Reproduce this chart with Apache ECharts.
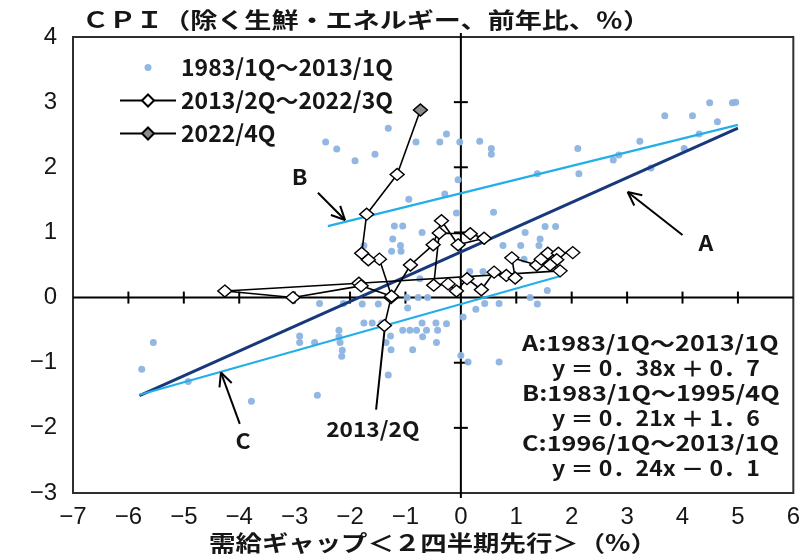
<!DOCTYPE html>
<html>
<head>
<meta charset="utf-8">
<script src="https://cdn.jsdelivr.net/npm/echarts@6/dist/echarts.min.js"></script>
<style>
  html, body { margin: 0; padding: 0; background: #ffffff; }
  #chart { width: 803px; height: 554px; }
</style>
</head>
<body>
<div id="chart"></div>
<script>
// Axis ranges and ticks
const xTicks = [-7, -6, -5, -4, -3, -2, -1, 0, 1, 2, 3, 4, 5, 6];
const yTicks = [-3, -2, -1, 0, 1, 2, 3, 4];

// Series names
const seriesNames = ['1983/1Q～2013/1Q', '2013/2Q～2022/3Q', '2022/4Q'];

// 1983/1Q - 2013/1Q : [output gap (2Q lead), CPI]
const history = [
  [4.49, 2.99], [4.90, 2.99], [4.96, 3.00],
  [3.68, 2.79], [4.18, 2.79], [4.63, 2.70], [4.30, 2.51],
  [0.34, 2.40], [0.55, 2.29], [0.55, 2.20], [2.11, 2.29], [3.23, 2.40], [4.03, 2.29],
  [2.75, 2.11], [2.85, 2.19], [1.38, 1.90], [2.13, 1.90], [3.43, 1.99],
  [0.59, 1.31], [-0.02, 2.39], [-0.05, 1.81], [-0.08, 1.30],
  [1.52, 1.09], [1.71, 1.09], [1.16, 1.00], [1.43, 0.90],
  [0.76, 0.80], [1.08, 0.80], [1.41, 0.80], [1.14, 0.59],
  [0.16, 0.40], [0.40, 0.40],
  [1.56, 0.11], [1.25, 0.00], [1.38, -0.10], [0.43, -0.09], [0.69, -0.09], [0.27, -0.18], [0.04, -0.30],
  [0.13, -0.99], [0.69, -0.99], [0.00, -0.89],
  [-1.31, 2.60], [-0.81, 2.39], [-0.38, 2.39], [-0.26, 2.51], [-2.44, 2.39], [-2.24, 2.28],
  [-1.91, 2.10], [-1.55, 2.20],
  [-0.94, 1.51], [-0.29, 1.59],
  [-1.20, 1.10], [-1.05, 1.10], [-0.70, 1.00], [-1.23, 0.90], [-1.09, 0.80],
  [-1.25, 0.71], [-1.08, 0.71], [-1.75, 0.80], [-0.74, 0.29],
  [-0.97, 0.00], [-0.77, 0.00], [-0.60, 0.00], [-2.55, -0.09], [-2.12, -0.09],
  [-1.78, -0.10], [-1.49, -0.10], [-0.96, -0.16],
  [-1.75, -0.39], [-1.60, -0.39], [-1.43, -0.39], [-0.70, -0.39], [-0.45, -0.39], [-0.26, -0.40],
  [-1.05, -0.50], [-0.92, -0.50], [-0.80, -0.50], [-0.62, -0.50], [-0.42, -0.50],
  [-0.69, -0.60], [-1.27, -0.59], [-1.35, -0.69], [-1.26, -0.80], [-0.44, -0.69], [-0.87, -0.80],
  [-1.31, -1.19],
  [-2.20, -0.50], [-2.20, -0.60], [-2.18, -0.69], [-2.14, -0.81], [-2.15, -0.90],
  [-2.91, -0.59], [-2.91, -0.69], [-2.64, -0.69],
  [-5.55, -0.69], [-5.76, -1.10], [-4.92, -1.29], [-3.78, -1.59], [-2.59, -1.50]
];

// 2013/2Q - 2022/3Q, in quarter order
const recent = [
  [-1.38, -0.43], [-1.26, 0.00], [-0.91, 0.50], [-0.50, 0.81], [-0.35, 1.18],
  [-0.05, 0.81], [0.42, 0.91], [0.17, 0.98], [-0.39, 0.99], [-0.49, 0.19],
  [-0.23, 0.21], [-0.08, 0.10], [0.11, 0.29], [0.37, 0.12], [0.60, 0.39],
  [0.82, 0.34], [0.98, 0.30], [0.92, 0.61], [1.37, 0.50], [1.45, 0.59],
  [1.57, 0.68], [2.02, 0.69], [1.76, 0.68], [1.73, 0.58], [1.61, 0.50],
  [1.79, 0.41], [-1.84, 0.22], [-4.26, 0.10], [-3.03, 0.00], [-1.80, 0.18],
  [-1.25, 0.02], [-1.47, 0.59], [-1.67, 0.58], [-1.79, 0.68], [-1.70, 1.28],
  [-1.15, 1.89]
];

// 2022/4Q
const latest = [[-0.73, 2.88]];

// Regression lines y = slope * x + intercept
const fitLabels = ['A', 'B', 'C'];
const fitSlope = [0.38, 0.21, 0.24];
const fitIntercept = [0.7, 1.6, -0.1];
const fitFrom = [-5.8, -2.4, -5.8];
const fitTo = [5.0, 5.0, 1.8];

// Arrow annotations (data units): tail -> tip, and where the letter sits
const arrowTail = [[4.00, 0.96], [-2.58, 1.61], [-3.99, -1.94]];
const arrowTip = [[3.01, 1.62], [-2.09, 1.19], [-4.33, -1.15]];
const letterAt = [[4.42, 0.84], [-2.91, 1.85], [-3.93, -2.20]];
const startNoteAt = [-1.59, -2.02];
const startNoteTail = [-1.53, -1.72];
const startNoteText = '2013/2Q';

const titleText = 'ＣＰＩ（除く生鮮・エネルギー、前年比、％）';
const xAxisTitle = '需給ギャップ＜２四半期先行＞（%）';
const noteLines = [
  'A:1983/1Q～2013/1Q', 'y ＝ 0．38x ＋ 0．7',
  'B:1983/1Q～1995/4Q', 'y ＝ 0．21x ＋ 1．6',
  'C:1996/1Q～2013/1Q', 'y ＝ 0．24x － 0．1'
];

const JP = '"Noto Sans CJK JP", "Noto Sans", sans-serif';
const NUM = '"Liberation Sans Narrow", "Liberation Sans", sans-serif';
const INK = '#161616';
const DOT = '#8db3e2';
const NAVY = '#17387a';
const CYAN = '#22afe9';

const fmt = v => (v < 0 ? '\u2212' + Math.abs(v) : String(v));

const fitSeries = fitLabels.map((name, i) => ({
  type: 'line',
  name: 'fit' + name,
  data: [
    [fitFrom[i], fitSlope[i] * fitFrom[i] + fitIntercept[i]],
    [fitTo[i], fitSlope[i] * fitTo[i] + fitIntercept[i]]
  ],
  symbol: 'none',
  silent: true,
  z: 3,
  lineStyle: { color: i === 0 ? NAVY : CYAN, width: i === 0 ? 3 : 2.2 }
}));

function seg(x1, y1, x2, y2, w) {
  return { type: 'line', shape: { x1, y1, x2, y2 }, style: { stroke: '#000', lineWidth: w } };
}

// zero cross lines with ticks on both sides
const crossSeries = {
  type: 'custom',
  coordinateSystem: 'cartesian2d',
  data: [[0, 0]],
  silent: true,
  z: 1,
  renderItem: function (params, api) {
    const kids = [];
    const L = api.coord([xTicks[0], 0]);
    const R = api.coord([xTicks[xTicks.length - 1], 0]);
    const T = api.coord([0, yTicks[yTicks.length - 1]]);
    const B = api.coord([0, yTicks[0]]);
    kids.push(seg(L[0], L[1], R[0], R[1], 2));
    kids.push(seg(T[0], T[1] - 4, B[0], B[1] + 5, 2));
    xTicks.slice(1, -1).forEach(v => {
      if (v === 0) return;
      const p = api.coord([v, 0]);
      kids.push(seg(p[0], p[1] - 6, p[0], p[1] + 6, 2));
    });
    yTicks.slice(1, -1).forEach(v => {
      if (v === 0) return;
      const p = api.coord([0, v]);
      kids.push(seg(p[0] - 7, p[1], p[0] + 7, p[1], 2));
    });
    return { type: 'group', children: kids };
  }
};

function arrow(kids, from, to) {
  kids.push(seg(from[0], from[1], to[0], to[1], 2));
  const ang = Math.atan2(to[1] - from[1], to[0] - from[0]);
  const len = 15, spread = 0.45;
  [ang + Math.PI - spread, ang + Math.PI + spread].forEach(a => {
    kids.push(seg(to[0], to[1], to[0] + len * Math.cos(a), to[1] + len * Math.sin(a), 2));
  });
}

function label(text, x, y, size, sx, align) {
  return { type: 'text', x: x, y: y, scaleX: sx,
    style: { text: text, font: 'bold ' + size + 'px ' + JP, fill: INK, align: align, verticalAlign: 'middle' } };
}

// arrows, letters and the 2013/2Q pointer
const noteSeries = {
  type: 'custom',
  coordinateSystem: 'cartesian2d',
  data: [[0, 0]],
  silent: true,
  z: 6,
  renderItem: function (params, api) {
    const kids = [];
    fitLabels.forEach((t, i) => {
      arrow(kids, api.coord(arrowTail[i]), api.coord(arrowTip[i]));
      const p = api.coord(letterAt[i]);
      kids.push(label(t, p[0], p[1], 21, 1.1, 'center'));
    });
    const a = api.coord(startNoteTail), b = api.coord(recent[0]);
    kids.push(seg(a[0], a[1], b[0], b[1] + 6, 2));
    const q = api.coord(startNoteAt);
    kids.push(label(startNoteText, q[0], q[1], 21, 1.08, 'center'));
    return { type: 'group', children: kids };
  }
};

const graphics = [
  label(titleText, 82, 20, 22, 1.23, 'left'),
  label(xAxisTitle, 433, 543, 22, 1.2, 'center')
];
noteLines.forEach((t, i) => {
  const even = i % 2 === 0;
  graphics.push(label(t, even ? 522 : 552, 343 + i * 25, 21, even ? 1.2 : 1.1, 'left'));
});

const chart = echarts.init(document.getElementById('chart'), null, { renderer: 'canvas' });
chart.setOption({
  animation: false,
  backgroundColor: '#ffffff',
  grid: { left: 73, right: 8, top: 37, bottom: 61, show: true, borderColor: '#2e2e2e', borderWidth: 2 },
  xAxis: {
    type: 'value', min: -7, max: 6, interval: 1,
    axisLine: { show: false }, axisTick: { show: false }, splitLine: { show: false },
    axisLabel: { formatter: fmt, fontFamily: NUM, fontSize: 24, color: INK, margin: 12,
      showMinLabel: true, showMaxLabel: true }
  },
  yAxis: {
    type: 'value', min: -3, max: 4, interval: 1,
    axisLine: { show: false }, axisTick: { show: false }, splitLine: { show: false },
    axisLabel: { formatter: fmt, fontFamily: NUM, fontSize: 24, color: INK, margin: 16,
      showMinLabel: true, showMaxLabel: true }
  },
  legend: {
    orient: 'vertical', left: 114, top: 51, itemWidth: 56, itemHeight: 15, itemGap: 10,
    textStyle: { fontFamily: JP, fontSize: 23, fontWeight: 'bold', color: INK, padding: [0, 0, 0, 0] },
    data: [
      { name: seriesNames[0], icon: 'path://M0 0L0 0M56 15L56 15M24.5 7.5A3.5 3.5 0 1 0 31.5 7.5A3.5 3.5 0 1 0 24.5 7.5Z' },
      { name: seriesNames[1] },
      { name: seriesNames[2] }
    ]
  },
  graphic: graphics,
  series: [
    crossSeries,
    {
      type: 'scatter', name: seriesNames[0], data: history, symbol: 'circle', symbolSize: 7, z: 2,
      itemStyle: { color: DOT, opacity: 0.95 }
    },
    ...fitSeries,
    {
      type: 'line', name: seriesNames[2],
      data: [{ value: recent[recent.length - 1], symbol: 'none' }, { value: latest[0] }],
      symbol: 'diamond', symbolSize: [14, 12], showAllSymbol: true, z: 4,
      lineStyle: { color: '#000', width: 1.6 },
      itemStyle: { color: '#8c8c8c', borderColor: '#000', borderWidth: 1.4 }
    },
    {
      type: 'line', name: seriesNames[1], data: recent,
      symbol: 'diamond', symbolSize: [14, 12], showAllSymbol: true, z: 5,
      lineStyle: { color: '#000', width: 1.6 },
      itemStyle: { color: '#ffffff', borderColor: '#000', borderWidth: 1.4 }
    },
    noteSeries
  ]
});
</script>
</body>
</html>
